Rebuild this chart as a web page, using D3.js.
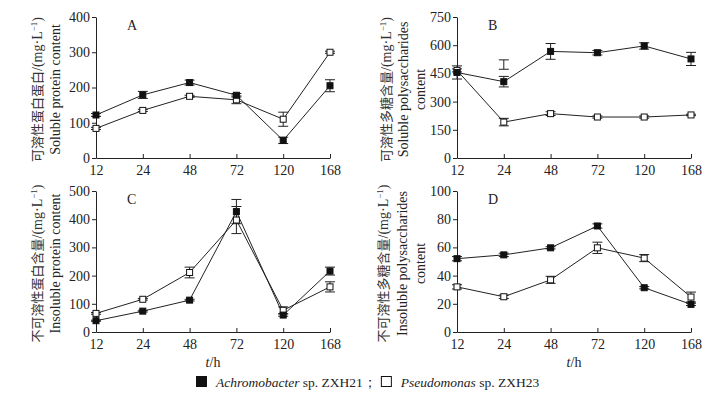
<!DOCTYPE html>
<html>
<head>
<meta charset="utf-8">
<script src="https://cdn.jsdelivr.net/npm/d3@7"></script>
<style>
  body { margin: 0; background: #fff; }
  svg { font-family: "Liberation Serif", "DejaVu Serif", serif; }
  .axis path, .axis line { stroke: #222; stroke-width: 1; }
  .axis text { font-family: "Liberation Serif", serif; font-size: 14px; fill: #222; }
  .ylab-cn { font-family: "Noto Sans CJK SC", sans-serif; font-size: 13px; fill: #333; }
  .ylab-en { font-family: "Liberation Serif", serif; font-size: 14px; fill: #222; }
</style>
</head>
<body>
<div id="chart"></div>
<script>
// time points (h)
const hours = ['12', '24', '48', '72', '120', '168'];

// A: soluble protein
const solProtAchro = [122, 179, 214, 178, 50, 205];
const solProtAchroErr = [4, 10, 7, 5, 9, 17];
const solProtPseudo = [84, 135, 175, 165, 110, 300];
const solProtPseudoErr = [3, 3, 3, 11, 20, 3];

// B: soluble polysaccharides
const solPolyAchro = [455, 406, 567, 560, 596, 527];
const solPolyAchroErr = [35, 28, 42, 12, 17, 35];
const solPolyPseudo = [466, 191, 236, 218, 218, 229];
const solPolyPseudoErr = [8, 20, 10, 6, 6, 4];

// C: insoluble protein
const insProtAchro = [40, 74, 113, 427, 60, 216];
const insProtAchroErr = [2, 3, 3, 43, 4, 14];
const insProtPseudo = [66, 116, 211, 397, 77, 160];
const insProtPseudoErr = [3, 3, 19, 48, 12, 18];

// D: insoluble polysaccharides
const insPolyAchro = [52, 54.7, 59.7, 75.2, 31.4, 19.6];
const insPolyAchroErr = [1.5, 1.2, 0.8, 1.5, 0.8, 0.8];
const insPolyPseudo = [32, 25, 37, 59.7, 52.4, 24.8];
const insPolyPseudoErr = [1.5, 1.2, 2.5, 4, 2.5, 3.5];

// stray error bar drawn at 24 h in panel B
const strayBarB = { hour: '24', value: 497, err: 25 };

const legendNames = ['Achromobacter', 'Pseudomonas'];
const legendSuffix = [' sp. ZXH21；', ' sp. ZXH23'];

class LinePanel {
  constructor(_config, _data) {
    this.config = {
      svg: _config.svg,
      left: _config.left,
      right: _config.right,
      top: _config.top,
      bottom: _config.bottom,
      yMax: _config.yMax,
      yTicks: _config.yTicks,
      letter: _config.letter,
      labelCn: _config.labelCn,
      labelEn: _config.labelEn,
      labelX: _config.labelX,
      showXTitle: _config.showXTitle,
      markerSize: 6,
      capWidth: 10
    };
    this.data = _data;
    this.initVis();
  }

  initVis() {
    let vis = this;
    const c = vis.config;

    vis.g = c.svg.append('g');

    vis.xScale = d3.scalePoint()
        .domain(hours)
        .range([c.left, c.right]);

    vis.yScale = d3.scaleLinear()
        .domain([0, c.yMax])
        .range([c.bottom, c.top]);

    // x axis, ticks point inward
    vis.g.append('g')
        .attr('class', 'axis')
        .attr('transform', `translate(0,${c.bottom})`)
        .call(d3.axisBottom(vis.xScale).tickSizeInner(-4).tickSizeOuter(0).tickPadding(7));

    vis.g.append('g')
        .attr('class', 'axis')
        .attr('transform', `translate(${c.left},0)`)
        .call(d3.axisLeft(vis.yScale).tickValues(c.yTicks).tickSizeInner(4).tickSizeOuter(0).tickPadding(2));

    vis.g.append('text')
        .attr('x', c.left + 31)
        .attr('y', c.top + 13)
        .attr('font-size', 14)
        .attr('fill', '#222')
        .text(c.letter);

    const midY = (c.top + c.bottom) / 2 + 2;

    // rotated two-language y label
    const cn = vis.g.append('text')
        .attr('class', 'ylab-cn')
        .attr('text-anchor', 'middle')
        .attr('transform', `translate(${c.labelX[0]},${midY}) rotate(-90)`);
    cn.append('tspan').text(c.labelCn);
    cn.append('tspan').attr('font-family', 'Liberation Serif').attr('font-size', 14).text('/(mg·L');
    cn.append('tspan').attr('font-family', 'Liberation Serif').attr('font-size', 9).attr('dy', -5).text('−1');
    cn.append('tspan').attr('font-family', 'Liberation Serif').attr('font-size', 14).attr('dy', 5).text(')');

    c.labelEn.forEach((line, i) => {
      vis.g.append('text')
          .attr('class', 'ylab-en')
          .attr('text-anchor', 'middle')
          .attr('transform', `translate(${c.labelX[i + 1]},${midY}) rotate(-90)`)
          .text(line);
    });

    if (c.showXTitle) {
      const t = vis.g.append('text')
          .attr('x', (c.left + c.right) / 2)
          .attr('y', c.bottom + 35)
          .attr('text-anchor', 'middle')
          .attr('font-size', 14)
          .attr('fill', '#222');
      t.append('tspan').attr('font-style', 'italic').text('t');
      t.append('tspan').text('/h');
    }

    vis.updateVis();
  }

  updateVis() {
    let vis = this;
    const c = vis.config;

    const line = d3.line()
        .x((d, i) => vis.xScale(hours[i]))
        .y(d => vis.yScale(d));

    // draw Pseudomonas first so the filled squares sit on top
    const order = [vis.data[1], vis.data[0]];

    order.forEach(s => {
      vis.g.append('path')
          .datum(s.values)
          .attr('fill', 'none')
          .attr('stroke', '#222')
          .attr('stroke-width', 1)
          .attr('d', line);
    });

    const bars = [];
    vis.data.forEach(s => {
      s.values.forEach((v, i) => bars.push({ hour: hours[i], value: v, err: s.errs[i] }));
    });
    if (vis.data.stray) bars.push(vis.data.stray);

    const bar = vis.g.selectAll('.err')
        .data(bars)
      .join('g')
        .attr('class', 'err')
        .attr('stroke', '#222')
        .attr('stroke-width', 1);

    bar.append('line')
        .attr('x1', d => vis.xScale(d.hour))
        .attr('x2', d => vis.xScale(d.hour))
        .attr('y1', d => vis.yScale(d.value - d.err))
        .attr('y2', d => vis.yScale(d.value + d.err));
    [-1, 1].forEach(sign => {
      bar.append('line')
          .attr('x1', d => vis.xScale(d.hour) - c.capWidth / 2)
          .attr('x2', d => vis.xScale(d.hour) + c.capWidth / 2)
          .attr('y1', d => vis.yScale(d.value + sign * d.err))
          .attr('y2', d => vis.yScale(d.value + sign * d.err));
    });

    order.forEach(s => {
      vis.g.selectAll(null)
          .data(s.values)
        .join('rect')
          .attr('x', (d, i) => vis.xScale(hours[i]) - c.markerSize / 2)
          .attr('y', d => vis.yScale(d) - c.markerSize / 2)
          .attr('width', c.markerSize)
          .attr('height', c.markerSize)
          .attr('fill', s.filled ? '#111' : '#fff')
          .attr('stroke', '#111')
          .attr('stroke-width', 1);
    });
  }
}

const svg = d3.select('#chart').append('svg')
    .attr('width', 722)
    .attr('height', 399);

function seriesPair(a, aErr, p, pErr) {
  return [
    { values: a, errs: aErr, filled: true },
    { values: p, errs: pErr, filled: false }
  ];
}

new LinePanel({
  svg: svg, left: 96, right: 330, top: 17, bottom: 158,
  yMax: 400, yTicks: [0, 100, 200, 300, 400], letter: 'A',
  labelCn: '可溶性蛋白蛋白', labelEn: ['Soluble protein content'],
  labelX: [42, 60], showXTitle: false
}, seriesPair(solProtAchro, solProtAchroErr, solProtPseudo, solProtPseudoErr));

const dataB = seriesPair(solPolyAchro, solPolyAchroErr, solPolyPseudo, solPolyPseudoErr);
dataB.stray = strayBarB;
new LinePanel({
  svg: svg, left: 457, right: 691, top: 17, bottom: 158,
  yMax: 750, yTicks: [0, 150, 300, 450, 600, 750], letter: 'B',
  labelCn: '可溶性多糖含量', labelEn: ['Soluble polysaccharides', 'content'],
  labelX: [391, 408, 425], showXTitle: false
}, dataB);

new LinePanel({
  svg: svg, left: 96, right: 330, top: 191, bottom: 332,
  yMax: 500, yTicks: [0, 100, 200, 300, 400, 500], letter: 'C',
  labelCn: '不可溶性蛋白含量', labelEn: ['Insoluble protein content'],
  labelX: [42, 60], showXTitle: true
}, seriesPair(insProtAchro, insProtAchroErr, insProtPseudo, insProtPseudoErr));

new LinePanel({
  svg: svg, left: 457, right: 691, top: 191, bottom: 332,
  yMax: 100, yTicks: [0, 20, 40, 60, 80, 100], letter: 'D',
  labelCn: '不可溶性多糖含量', labelEn: ['Insoluble polysaccharides', 'content'],
  labelX: [388, 407, 425], showXTitle: true
}, seriesPair(insPolyAchro, insPolyAchroErr, insPolyPseudo, insPolyPseudoErr));

// legend: items laid out one after the other
const legend = svg.append('g').attr('transform', 'translate(196,387)');
let lx = 0;
legendNames.forEach((name, i) => {
  legend.append('rect')
      .attr('x', lx + 0.5).attr('y', -10.5)
      .attr('width', 10).attr('height', 10)
      .attr('fill', i === 0 ? '#111' : '#fff')
      .attr('stroke', '#111');
  const t = legend.append('text')
      .attr('x', lx + 20)
      .attr('font-size', 13.5)
      .attr('fill', '#222');
  t.append('tspan').attr('font-style', 'italic').text(name);
  t.append('tspan').text(legendSuffix[i]);
  lx += 20 + t.node().getComputedTextLength() + 4;
});
</script>
</body>
</html>
